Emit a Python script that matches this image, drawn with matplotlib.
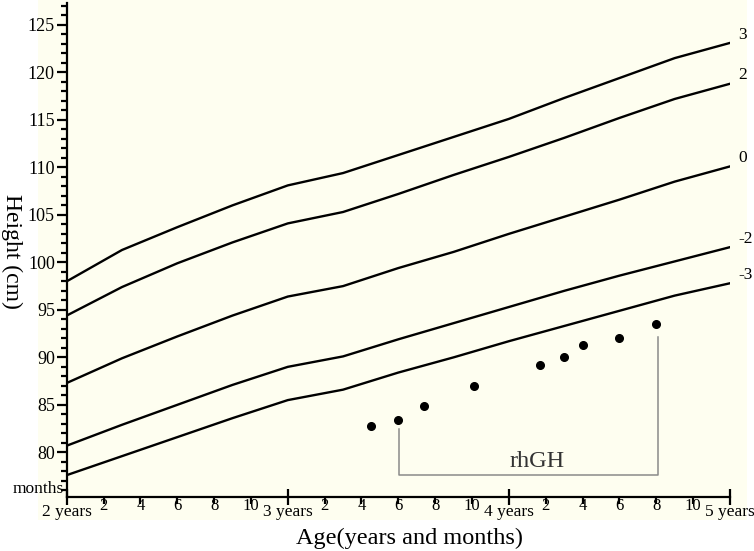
import matplotlib.pyplot as plt
from matplotlib.patches import Rectangle

# Возраст в месяцах от 2 лет
months = [0, 3, 6, 9, 12, 15, 18, 21, 24, 27, 30, 33, 36]

# Кривые роста (SD)
sd_labels = ["3", "2", "0", "-2", "-3"]
sd_p3 = [98.0, 101.3, 103.7, 106.0, 108.1, 109.4, 111.3, 113.2, 115.1, 117.3, 119.4, 121.5, 123.1]
sd_p2 = [94.4, 97.4, 99.9, 102.1, 104.1, 105.3, 107.2, 109.2, 111.1, 113.1, 115.2, 117.2, 118.8]
sd_0 = [87.3, 89.9, 92.2, 94.4, 96.4, 97.5, 99.4, 101.1, 103.0, 104.8, 106.6, 108.5, 110.1]
sd_m2 = [80.7, 82.9, 85.0, 87.1, 89.0, 90.1, 91.9, 93.6, 95.3, 97.0, 98.6, 100.1, 101.6]
sd_m3 = [77.6, 79.6, 81.6, 83.6, 85.5, 86.6, 88.4, 90.0, 91.7, 93.3, 94.9, 96.5, 97.8]
curves = [sd_p3, sd_p2, sd_0, sd_m2, sd_m3]

# Измерения пациента
pt_age = [16.5, 18.0, 19.4, 22.1, 25.7, 27.0, 28.0, 30.0, 32.0]
pt_height = [82.75, 83.45, 84.9, 86.95, 89.2, 90.0, 91.3, 92.05, 93.5]

# Период терапии rhGH
rh_start, rh_end = 18.05, 32.1
rh_bottom = 77.6
rh_top_left, rh_top_right = 82.5, 92.15

year_ticks = [0, 12, 24, 36]
year_labels = ["2 years", "3 years", "4 years", "5 years"]
month_ticks = [m for m in range(2, 36, 2) if m % 12 != 0]
month_labels = [str(m % 12) for m in month_ticks]

fig = plt.figure(figsize=(7.54, 5.51), dpi=100)
fig.patches.append(Rectangle((38 / 754, 1 - 520 / 551), (747 - 38) / 754, 520 / 551,
                             transform=fig.transFigure, facecolor="#fefef0",
                             edgecolor="none", zorder=-10))
ax = fig.add_axes([66.7 / 754, 54 / 551, (730 - 66.7) / 754, (497 - 3) / 551])
ax.set_facecolor("none")
ax.set_zorder(5)

for vals, lab in zip(curves, sd_labels):
    ax.plot(months, vals, color="black", lw=1.7)
    ax.annotate(lab, xy=(months[-1], vals[-1]), xytext=(6, 6), textcoords="offset points",
                ha="left", va="center", fontsize=12.5, family="Liberation Serif",
                annotation_clip=False)

ax.plot(pt_age, pt_height, "o", color="black", ms=5.5)

ax.plot([rh_start, rh_start, rh_end, rh_end],
        [rh_top_left, rh_bottom, rh_bottom, rh_top_right], color="#8a8a8a", lw=1.1)
ax.text((rh_start + rh_end) / 2 + 0.45, rh_bottom + 0.35, "rhGH", ha="center", va="bottom",
        fontsize=17.5, family="Liberation Serif", color="#333333")

ax.set_xlim(0, 36)
ax.set_ylim(75.3, 127.3)

ax.set_xticks(year_ticks, year_labels)
ax.set_xticks(month_ticks, month_labels, minor=True)
ax.set_yticks(range(80, 126, 5))
ax.set_yticks(range(76, 128), minor=True)

for lab in ax.get_yticklabels():
    lab.set_family("Liberation Serif")
    lab.set_fontsize(13)
for lab in ax.get_xticklabels():
    lab.set_family("Liberation Serif")
    lab.set_fontsize(12.5)
for lab in ax.get_xticklabels(minor=True):
    lab.set_family("Liberation Serif")
    lab.set_fontsize(12)

ax.tick_params(axis="x", which="major", direction="inout", length=12, width=1.6, pad=-1)
ax.tick_params(axis="x", which="minor", direction="out", length=5, width=1.6, pad=-4)
ax.tick_params(axis="y", which="major", direction="out", length=7, width=1.6, pad=1.5)
ax.tick_params(axis="y", which="minor", direction="out", length=4, width=1.6)

for side in ["top", "right"]:
    ax.spines[side].set_visible(False)
for side in ["left", "bottom"]:
    ax.spines[side].set_linewidth(1.6)

ax.text(-0.004, 0.0, "months", transform=ax.transAxes, ha="right", va="bottom",
        fontsize=12.5, family="Liberation Serif")

fig.text(12 / 754, 1 - 251 / 551, "Height (cm)", rotation=270, ha="center", va="center",
         fontsize=17, family="Liberation Serif")
fig.text(410 / 754, 1 - 538 / 551, "Age(years and months)", ha="center", va="center",
         fontsize=17.5, family="Liberation Serif")

fig.savefig("out.png", dpi=100)
